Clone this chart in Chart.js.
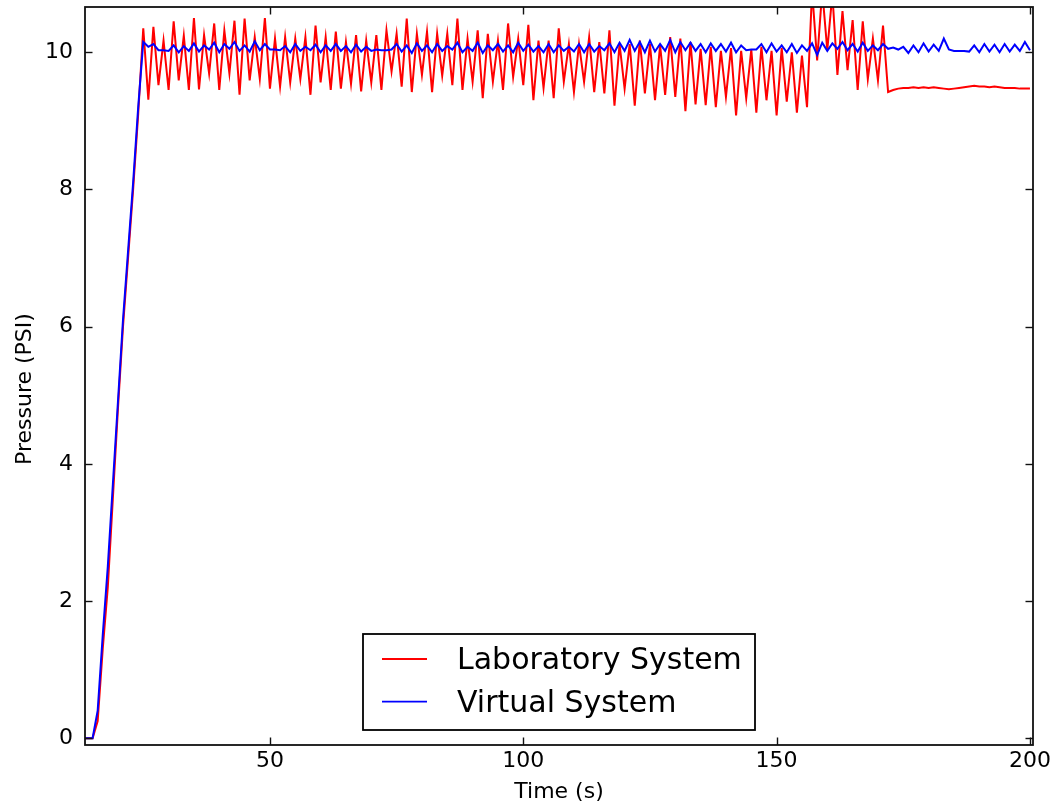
<!DOCTYPE html>
<html><head><meta charset="utf-8">
<script src="https://cdn.jsdelivr.net/npm/chart.js@4/dist/chart.umd.min.js"></script>
<style>html,body{margin:0;padding:0;background:#fff;} #wrap{width:1058px;height:810px;}</style>
</head><body><div id="wrap"><canvas id="c" width="1058" height="810"></canvas></div>
<script>
// sampling of the time axis (s)
const T0 = 13, DT = 1;
const seriesNames = ['Laboratory System', 'Virtual System'];
const seriesColors = ['#ff0000', '#0000ff'];
const xTickValues = [50, 100, 150, 200];
const yTickValues = [0, 2, 4, 6, 8, 10];
const xRange = [13.5, 200.6];
const yRange = [-0.1, 10.66];
const xTitle = 'Time (s)';
const yTitle = 'Pressure (PSI)';

// Pressure (PSI), one value per second from t = 13 s to t = 200 s
const labSystem = [
  0, 0, 0, 0.25, 1.3, 2.2, 3.5, 4.8, 6.0, 7.0,
  8.0, 9.1, 10.35, 9.31, 10.37, 9.52, 10.17, 9.45, 10.45, 9.59,
  10.24, 9.45, 10.50, 9.46, 10.25, 9.69, 10.42, 9.45, 10.32, 9.69,
  10.46, 9.38, 10.49, 9.59, 10.22, 9.61, 10.50, 9.47, 10.20, 9.50,
  10.22, 9.56, 10.20, 9.61, 10.22, 9.38, 10.39, 9.56, 10.22, 9.45,
  10.30, 9.47, 10.15, 9.54, 10.25, 9.43, 10.17, 9.56, 10.25, 9.45,
  10.32, 9.72, 10.27, 9.50, 10.49, 9.42, 10.27, 9.67, 10.30, 9.42,
  10.27, 9.66, 10.27, 9.52, 10.49, 9.45, 10.20, 9.57, 10.32, 9.33,
  10.27, 9.57, 10.17, 9.45, 10.42, 9.64, 10.20, 9.52, 10.40, 9.30,
  10.17, 9.48, 10.17, 9.33, 10.35, 9.57, 10.12, 9.42, 10.12, 9.57,
  10.22, 9.42, 10.15, 9.40, 10.32, 9.22, 10.12, 9.47, 10.12, 9.22,
  10.17, 9.40, 10.12, 9.30, 10.10, 9.38, 10.22, 9.35, 10.20, 9.14,
  10.15, 9.24, 10.05, 9.23, 10.08, 9.20, 10.02, 9.35, 10.06, 9.08,
  10.02, 9.33, 10.04, 9.12, 10.08, 9.30, 10.02, 9.08, 10.06, 9.28,
  10.00, 9.12, 9.95, 9.20, 10.90, 9.88, 10.90, 10.03, 10.85, 9.67,
  10.60, 9.74, 10.47, 9.45, 10.45, 9.61, 10.20, 9.59, 10.39, 9.42,
  9.45, 9.47, 9.48, 9.48, 9.49, 9.48, 9.49, 9.48, 9.49, 9.48,
  9.47, 9.46, 9.47, 9.48, 9.49, 9.50, 9.51, 9.50, 9.50, 9.49,
  9.50, 9.49, 9.48, 9.48, 9.48, 9.47, 9.47, 9.47
];
const virtualSystem = [
  0, 0, 0, 0.4, 1.5, 2.5, 3.7, 4.9, 6.1, 7.1,
  8.1, 9.2, 10.15, 10.08, 10.12, 10.03, 10.03, 10.02, 10.10, 10.00,
  10.09, 10.02, 10.13, 10.01, 10.10, 10.04, 10.14, 10.00, 10.12, 10.05,
  10.15, 10.02, 10.10, 10.01, 10.16, 10.03, 10.12, 10.04, 10.04, 10.03,
  10.09, 10.00, 10.12, 10.02, 10.08, 10.03, 10.11, 10.00, 10.10, 10.02,
  10.12, 10.02, 10.09, 10.00, 10.11, 10.01, 10.08, 10.02, 10.04, 10.03,
  10.03, 10.04, 10.12, 10.01, 10.10, 9.99, 10.13, 10.02, 10.10, 10.00,
  10.12, 10.02, 10.09, 10.04, 10.14, 10.00, 10.08, 10.02, 10.14, 9.99,
  10.10, 10.03, 10.12, 10.01, 10.10, 10.00, 10.14, 10.02, 10.11, 10.01,
  10.09, 10.00, 10.12, 10.00, 10.10, 10.02, 10.08, 10.01, 10.12, 10.00,
  10.12, 10.01, 10.09, 10.03, 10.13, 10.00, 10.14, 10.02, 10.18, 10.02,
  10.15, 10.00, 10.17, 10.01, 10.12, 10.02, 10.18, 10.00, 10.15, 10.03,
  10.14, 10.02, 10.12, 10.00, 10.13, 10.02, 10.12, 10.01, 10.14, 10.00,
  10.10, 10.03, 10.04, 10.04, 10.12, 10.00, 10.13, 10.01, 10.10, 10.00,
  10.12, 9.99, 10.10, 10.02, 10.13, 9.96, 10.14, 10.02, 10.13, 10.05,
  10.15, 10.03, 10.12, 10.01, 10.14, 10.02, 10.10, 10.03, 10.12, 10.05,
  10.07, 10.04, 10.08, 9.99, 10.10, 10.00, 10.13, 10.01, 10.11, 10.02,
  10.20, 10.04, 10.02, 10.02, 10.02, 10.01, 10.10, 10.00, 10.12, 10.01,
  10.11, 10.00, 10.12, 10.01, 10.11, 10.02, 10.15, 10.03
];

function toPoints(vals) { return vals.map((v, i) => ({ x: T0 + i * DT, y: v })); }

const FONT = "'DejaVu Sans', 'Liberation Sans', sans-serif";
Chart.defaults.font.family = FONT;
Chart.defaults.color = '#000';

function seg(ctx, x1, y1, x2, y2) { ctx.beginPath(); ctx.moveTo(x1, y1); ctx.lineTo(x2, y2); ctx.stroke(); }

const frameTicks = {
  id: 'frameTicks',
  afterDatasetsDraw(chart) {
    const { ctx, chartArea: a, scales: { x, y } } = chart;
    const L = 7.5;
    ctx.save();
    ctx.strokeStyle = '#111';
    ctx.lineWidth = 1.4;
    x.ticks.forEach(t => {
      const px = Math.round(x.getPixelForValue(t.value)) + 0.5;
      seg(ctx, px, a.bottom, px, a.bottom - L);
      seg(ctx, px, a.top, px, a.top + L);
    });
    y.ticks.forEach(t => {
      const py = Math.round(y.getPixelForValue(t.value)) + 0.5;
      seg(ctx, a.left, py, a.left + L, py);
      seg(ctx, a.right, py, a.right - L, py);
    });
    ctx.lineWidth = 1.8;
    ctx.strokeStyle = '#111';
    ctx.strokeRect(a.left, a.top, a.right - a.left, a.bottom - a.top);
    ctx.restore();
  },
  afterDraw(chart) {
    // y-axis title, placed like the reference (slightly below the axes centre)
    const { ctx, chartArea: a } = chart;
    ctx.save();
    ctx.font = '22px ' + FONT;
    ctx.fillStyle = '#000';
    ctx.textAlign = 'center';
    ctx.textBaseline = 'alphabetic';
    ctx.translate(30.5, (a.top + a.bottom) / 2 + 13);
    ctx.rotate(-Math.PI / 2);
    ctx.fillText(yTitle, 0, 0);
    ctx.restore();
  }
};

const legendBox = {
  id: 'legendBox',
  afterDraw(chart) {
    const { ctx, chartArea: a } = chart;
    const w = 392, h = 96;
    const x0 = Math.round((a.left + a.right) / 2 - w / 2);
    const y0 = a.bottom - 15 - h;
    ctx.save();
    ctx.fillStyle = '#fff';
    ctx.fillRect(x0, y0, w, h);
    ctx.strokeStyle = '#000';
    ctx.lineWidth = 1.8;
    ctx.strokeRect(x0, y0, w, h);
    ctx.font = '30px ' + FONT;
    ctx.textAlign = 'left';
    ctx.textBaseline = 'alphabetic';
    chart.data.datasets.forEach((ds, i) => {
      const ly = y0 + 25 + i * 42.7;
      ctx.strokeStyle = ds.borderColor;
      ctx.lineWidth = 1.8;
      seg(ctx, x0 + 19, ly, x0 + 64, ly);
      ctx.fillStyle = '#000';
      ctx.fillText(ds.label, x0 + 94, ly + 10);
    });
    ctx.restore();
  }
};

function zeroPad(s) { s.paddingTop = 0; s.paddingBottom = 0; s.paddingLeft = 0; s.paddingRight = 0; }

new Chart(document.getElementById('c'), {
  type: 'line',
  data: {
    datasets: [
      { label: seriesNames[0], data: toPoints(labSystem), borderColor: seriesColors[0], borderWidth: 2, pointRadius: 0, tension: 0, fill: false, order: 1, clip: 0 },
      { label: seriesNames[1], data: toPoints(virtualSystem), borderColor: seriesColors[1], borderWidth: 2, pointRadius: 0, tension: 0, fill: false, order: 0, clip: 0 }
    ]
  },
  options: {
    responsive: false,
    animation: false,
    devicePixelRatio: 1,
    layout: { padding: { left: 0, right: 25, top: 7, bottom: 0 } },
    plugins: { legend: { display: false }, tooltip: { enabled: false } },
    scales: {
      x: {
        type: 'linear', min: xRange[0], max: xRange[1],
        afterBuildTicks: s => { s.ticks = xTickValues.map(v => ({ value: v })); },
        afterFit: s => { s.height = 65; zeroPad(s); },
        grid: { display: false, drawTicks: false },
        border: { display: false },
        ticks: { font: { size: 22 }, color: '#000', padding: 3, maxRotation: 0, autoSkip: false },
        title: { display: true, text: xTitle, font: { size: 22 }, color: '#000', padding: { top: 0, bottom: 5 } }
      },
      y: {
        type: 'linear', min: yRange[0], max: yRange[1],
        afterBuildTicks: s => { s.ticks = yTickValues.map(v => ({ value: v })); },
        afterFit: s => { s.width = 85; zeroPad(s); },
        grid: { display: false, drawTicks: false },
        border: { display: false },
        ticks: { font: { size: 22 }, color: '#000', padding: 12, autoSkip: false },
        title: { display: false, text: yTitle }
      }
    }
  },
  plugins: [frameTicks, legendBox]
});
</script>
</body></html>
